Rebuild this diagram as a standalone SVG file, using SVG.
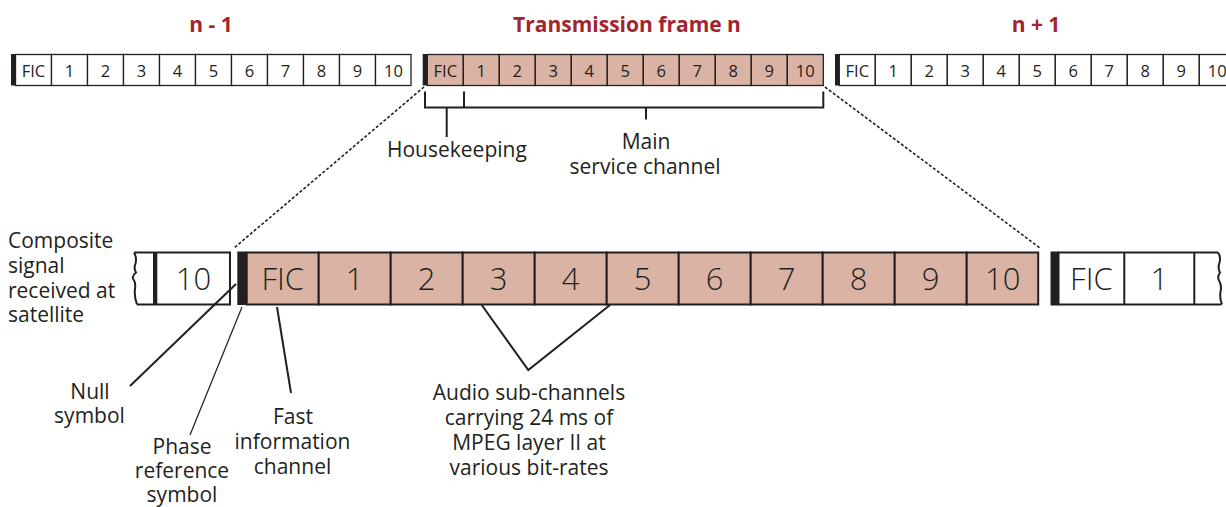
<svg xmlns="http://www.w3.org/2000/svg" width="1226" height="507" viewBox="0 0 1226 507">
<style>
text{font-family:"Open Sans","Noto Sans","Liberation Sans",sans-serif;fill:#231f20}
.title{font-weight:bold;font-size:21px;fill:#a3242f;text-anchor:middle}
.st{font-size:16.5px;text-anchor:middle}
.bt{font-size:31px;text-anchor:middle;font-weight:300}
.lb{font-size:21px}
.c{text-anchor:middle}
.tc{fill:#ffffff;stroke:#231f20;stroke-width:1.3}
.tp{fill:#dab3a5;stroke:#231f20;stroke-width:1.3}
.bc{fill:#ffffff;stroke:#231f20;stroke-width:2}
.bp{fill:#dab3a5;stroke:#231f20;stroke-width:2}
.bar{fill:#231f20}
.ln{stroke:#231f20;stroke-width:2;fill:none}
.thin{stroke:#231f20;stroke-width:1.2;fill:none}
.dot{stroke:#231f20;stroke-width:1.6;stroke-dasharray:3 2;fill:none}
</style>

<g id="titles">
<text class="title" x="211" y="31.5">n - 1</text>
<text class="title" x="627" y="31.5">Transmission frame n</text>
<text class="title" x="1036" y="31.5">n + 1</text>
</g>

<g id="frame-n-minus-1">
<rect class="bar" x="11" y="54" width="4.5" height="31.5"/>
<rect class="tc" x="15.5" y="54.5" width="36" height="31"/>
<rect class="tc" x="51.5" y="54.5" width="36" height="31"/>
<rect class="tc" x="87.5" y="54.5" width="36" height="31"/>
<rect class="tc" x="123.5" y="54.5" width="36" height="31"/>
<rect class="tc" x="159.5" y="54.5" width="36" height="31"/>
<rect class="tc" x="195.5" y="54.5" width="36" height="31"/>
<rect class="tc" x="231.5" y="54.5" width="36" height="31"/>
<rect class="tc" x="267.5" y="54.5" width="36" height="31"/>
<rect class="tc" x="303.5" y="54.5" width="36" height="31"/>
<rect class="tc" x="339.5" y="54.5" width="36" height="31"/>
<rect class="tc" x="375.5" y="54.5" width="35.5" height="31"/>
<text class="st" x="33.5" y="76.5">FIC</text>
<text class="st" x="69.5" y="76.5">1</text>
<text class="st" x="105.5" y="76.5">2</text>
<text class="st" x="141.5" y="76.5">3</text>
<text class="st" x="177.5" y="76.5">4</text>
<text class="st" x="213.5" y="76.5">5</text>
<text class="st" x="249.5" y="76.5">6</text>
<text class="st" x="285.5" y="76.5">7</text>
<text class="st" x="321.5" y="76.5">8</text>
<text class="st" x="357.5" y="76.5">9</text>
<text class="st" x="393.5" y="76.5">10</text>
</g>

<g id="frame-n">
<rect class="bar" x="422.7" y="54" width="4.6" height="31.5"/>
<rect class="tp" x="427.3" y="54.5" width="36" height="31"/>
<rect class="tp" x="463.3" y="54.5" width="36" height="31"/>
<rect class="tp" x="499.3" y="54.5" width="36" height="31"/>
<rect class="tp" x="535.3" y="54.5" width="36" height="31"/>
<rect class="tp" x="571.3" y="54.5" width="36" height="31"/>
<rect class="tp" x="607.3" y="54.5" width="36" height="31"/>
<rect class="tp" x="643.3" y="54.5" width="36" height="31"/>
<rect class="tp" x="679.3" y="54.5" width="36" height="31"/>
<rect class="tp" x="715.3" y="54.5" width="36" height="31"/>
<rect class="tp" x="751.3" y="54.5" width="36" height="31"/>
<rect class="tp" x="787.3" y="54.5" width="36" height="31"/>
<text class="st" x="445.3" y="76.5">FIC</text>
<text class="st" x="481.3" y="76.5">1</text>
<text class="st" x="517.3" y="76.5">2</text>
<text class="st" x="553.3" y="76.5">3</text>
<text class="st" x="589.3" y="76.5">4</text>
<text class="st" x="625.3" y="76.5">5</text>
<text class="st" x="661.3" y="76.5">6</text>
<text class="st" x="697.3" y="76.5">7</text>
<text class="st" x="733.3" y="76.5">8</text>
<text class="st" x="769.3" y="76.5">9</text>
<text class="st" x="805.3" y="76.5">10</text>
</g>

<g id="frame-n-plus-1">
<rect class="bar" x="835" y="54" width="4.3" height="31.5"/>
<rect class="tc" x="839.3" y="54.5" width="36" height="31"/>
<rect class="tc" x="875.3" y="54.5" width="36" height="31"/>
<rect class="tc" x="911.3" y="54.5" width="36" height="31"/>
<rect class="tc" x="947.3" y="54.5" width="36" height="31"/>
<rect class="tc" x="983.3" y="54.5" width="36" height="31"/>
<rect class="tc" x="1019.3" y="54.5" width="36" height="31"/>
<rect class="tc" x="1055.3" y="54.5" width="36" height="31"/>
<rect class="tc" x="1091.3" y="54.5" width="36" height="31"/>
<rect class="tc" x="1127.3" y="54.5" width="36" height="31"/>
<rect class="tc" x="1163.3" y="54.5" width="36" height="31"/>
<rect class="tc" x="1199.3" y="54.5" width="36" height="31"/>
<text class="st" x="857.3" y="76.5">FIC</text>
<text class="st" x="893.3" y="76.5">1</text>
<text class="st" x="929.3" y="76.5">2</text>
<text class="st" x="965.3" y="76.5">3</text>
<text class="st" x="1001.3" y="76.5">4</text>
<text class="st" x="1037.3" y="76.5">5</text>
<text class="st" x="1073.3" y="76.5">6</text>
<text class="st" x="1109.3" y="76.5">7</text>
<text class="st" x="1145.3" y="76.5">8</text>
<text class="st" x="1181.3" y="76.5">9</text>
<text class="st" x="1217.3" y="76.5">10</text>
</g>

<g id="brackets">
<path class="ln" d="M425,91.5 V107.5 H823.3 V91.5 M464,91.5 V107.5 M446.7,107.5 V137 M646,107.5 V119.5"/>
</g>
<g id="label-housekeeping">
<text class="lb" x="387" y="157">Housekeeping</text>
</g>
<g id="label-main">
<text class="lb c" x="646" y="148.5">Main</text>
<text class="lb c" x="645" y="174">service channel</text>
</g>

<g id="connectors">
<path class="dot" d="M424,87 L234,248"/>
<path class="dot" d="M825,87 L1040,248"/>
<path class="ln" d="M130,386 L236,284"/>
<path class="thin" d="M190,435 L242,307"/>
<path class="ln" d="M277,307 L291,393"/>
<path class="ln" d="M481.7,305 L528.3,370 L610,305"/>
</g>

<g id="bottom-prev">
<path class="ln" d="M134,252.5 H230 V304.5 H137"/>
<path class="ln" d="M134,252.5 q3,5 1.5,11 q-2,5 0.5,9 q-4,3 -3,6 q3,4 2,10 q-1,8 2,16"/>
<rect class="bar" x="153" y="252" width="4.3" height="53"/>
<text class="bt" x="193.5" y="289.5">10</text>
</g>

<g id="bottom-frame-n">
<rect class="bar" x="237.3" y="251.5" width="9.4" height="53.5"/>
<rect class="bp" x="246.7" y="252.5" width="72" height="52"/>
<rect class="bp" x="318.7" y="252.5" width="72" height="52"/>
<rect class="bp" x="390.7" y="252.5" width="72" height="52"/>
<rect class="bp" x="462.7" y="252.5" width="72" height="52"/>
<rect class="bp" x="534.7" y="252.5" width="72" height="52"/>
<rect class="bp" x="606.7" y="252.5" width="72" height="52"/>
<rect class="bp" x="678.7" y="252.5" width="72" height="52"/>
<rect class="bp" x="750.7" y="252.5" width="72" height="52"/>
<rect class="bp" x="822.7" y="252.5" width="72" height="52"/>
<rect class="bp" x="894.7" y="252.5" width="72" height="52"/>
<rect class="bp" x="966.7" y="252.5" width="71.5" height="52"/>
<text class="bt" x="282.7" y="289.5">FIC</text>
<text class="bt" x="354.7" y="289.5">1</text>
<text class="bt" x="426.7" y="289.5">2</text>
<text class="bt" x="498.7" y="289.5">3</text>
<text class="bt" x="570.7" y="289.5">4</text>
<text class="bt" x="642.7" y="289.5">5</text>
<text class="bt" x="714.7" y="289.5">6</text>
<text class="bt" x="786.7" y="289.5">7</text>
<text class="bt" x="858.7" y="289.5">8</text>
<text class="bt" x="930.7" y="289.5">9</text>
<text class="bt" x="1002.7" y="289.5">10</text>
</g>

<g id="bottom-next">
<path class="ln" d="M1218,252.5 H1058.5 V304.5 H1221"/>
<path class="ln" d="M1124.3,252.5 V304.5 M1194.3,252.5 V304.5"/>
<path class="ln" d="M1218,252.5 q3,4 1.5,10 q-2,6 0.5,10 q-3,4 -1,8 q3,5 1.5,11 q-1,7 1.5,13"/>
<rect class="bar" x="1050.5" y="251.5" width="8" height="54"/>
<text class="bt" x="1091.4" y="289.5">FIC</text>
<text class="bt" x="1159.3" y="289.5">1</text>
</g>

<g id="label-composite">
<text class="lb" x="8" y="248">Composite</text>
<text class="lb" x="8" y="273">signal</text>
<text class="lb" x="8" y="297.5">received at</text>
<text class="lb" x="8" y="322">satellite</text>
</g>
<g id="label-null">
<text class="lb c" x="90" y="399">Null</text>
<text class="lb c" x="89.5" y="423">symbol</text>
</g>
<g id="label-phase">
<text class="lb c" x="182" y="453.5">Phase</text>
<text class="lb c" x="182" y="478">reference</text>
<text class="lb c" x="182" y="502">symbol</text>
</g>
<g id="label-fast">
<text class="lb c" x="293" y="424">Fast</text>
<text class="lb c" x="292.5" y="449">information</text>
<text class="lb c" x="292.5" y="474">channel</text>
</g>
<g id="label-audio">
<text class="lb c" x="529" y="400">Audio sub-channels</text>
<text class="lb c" x="529" y="425">carrying 24 ms of</text>
<text class="lb c" x="529" y="450">MPEG layer II at</text>
<text class="lb c" x="529" y="475">various bit-rates</text>
</g>
</svg>
